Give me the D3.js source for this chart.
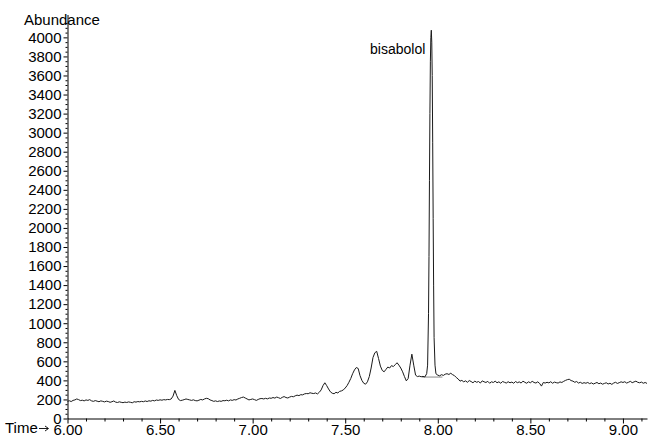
<!DOCTYPE html>
<html><head><meta charset="utf-8">
<script src="https://cdn.jsdelivr.net/npm/d3@7"></script>
<style>
body{margin:0;background:#fff}
svg{display:block}
text{font-family:"Liberation Sans",Arial,Helvetica,sans-serif;fill:#000}
</style>
</head><body>
<svg id="chart" width="648" height="437"></svg>
<script>
// ---- data ----
const traceStart = 6.00;
const traceStep = 0.01;
const abundance = [
  180,186,178,190,195,205,198,188,192,185,
  195,190,198,185,180,188,182,176,185,180,
  174,182,178,170,176,184,172,168,175,170,
  166,172,168,174,170,165,176,172,178,175,
  180,176,184,178,186,182,190,185,194,190,
  196,192,198,195,200,198,205,235,295,240,
  200,188,192,198,205,200,195,190,196,188,
  185,192,200,195,205,212,208,195,188,180,
  185,178,184,180,188,186,192,185,195,190,
  198,194,205,212,220,225,215,205,195,200,
  205,198,190,200,208,210,205,212,206,215,
  212,220,214,225,218,210,222,230,220,215,
  225,232,228,238,245,240,250,248,258,262,
  260,270,265,262,268,258,275,300,345,375,
  345,310,280,265,260,275,268,285,290,300,
  320,345,380,420,470,510,535,525,450,400,
  370,360,385,440,530,640,690,705,630,550,
  505,490,515,540,530,555,545,565,585,560,
  530,490,440,395,420,560,675,560,455,440,
  445,438,442,436,470,1100,3750,3600,850,470,
  455,448,460,452,465,470,462,475,460,450,
  430,415,392,400,385,395,380,398,388,375,
  392,380,388,372,395,385,378,390,370,385,
  378,392,375,385,370,388,380,372,386,375,
  382,370,388,376,384,372,392,380,370,385,
  375,390,378,372,385,368,340,378,372,380,
  374,386,370,382,376,372,384,378,390,400,
  408,412,398,392,380,388,372,380,368,376,
  370,378,366,374,362,370,378,365,372,360,
  368,375,362,370,358,372,380,368,376,385,
  378,386,372,380,390,376,384,392,380,375,
  382,370,378,368
];
// extra samples across the sharp bisabolol peak
const peakTimes     = [7.945, 7.9525, 7.955, 7.9575, 7.9625, 7.965, 7.9675, 7.9725, 7.975, 7.9775, 7.985];
const peakAbundance = [560,   1700,   2500,  3200,   4000,   4075,  3950,   2900,   2100,  1400,   560];
const peakName = "bisabolol";
const peakApexTime = 7.965;
const peakApexValue = 4075;
// integration baseline under the peak
const baselineTimes = [7.915, 8.025];
const baselineValues = [435, 435];

const yTicks = [0,200,400,600,800,1000,1200,1400,1600,1800,2000,2200,2400,2600,2800,3000,3200,3400,3600,3800,4000];
const xTicks = [6.0, 6.5, 7.0, 7.5, 8.0, 8.5, 9.0];
const xTickLabels = ["6.00","6.50","7.00","7.50","8.00","8.50","9.00"];
const yTitle = "Abundance";
const xTitle = "Time";

// ---- build points ----
const points = abundance.map((v, i) => ({t: +(traceStart + i * traceStep).toFixed(4), v}));
peakTimes.forEach((t, i) => points.push({t, v: peakAbundance[i]}));
points.sort((a, b) => a.t - b.t);

// ---- scales ----
const svg = d3.select("#chart");
const x = d3.scaleLinear().domain([6.0, 9.13]).range([67.5, 647]);
const y = d3.scaleLinear().domain([0, 4240]).range([418.5, 14.5]);

// ---- y axis ----
const yMinor = d3.range(0, 4201, 50).filter(d => d % 200 !== 0);
svg.append("g").attr("transform", "translate(67.5,0)")
  .call(d3.axisLeft(y).tickValues(yMinor).tickSize(2).tickFormat(""))
  .call(g => g.select(".domain").remove());
const yAxis = svg.append("g").attr("transform", "translate(67.5,0)")
  .call(d3.axisLeft(y).tickValues(yTicks).tickSize(4).tickSizeOuter(0).tickPadding(2).tickFormat(d3.format("d")));
yAxis.selectAll("text").style("font-size", "15px");

// ---- x axis ----
const xMinor = d3.range(60, 92).map(d => d / 10).filter(d => Math.round(d * 10) % 5 !== 0);
svg.append("g").attr("transform", "translate(0,418.5)")
  .call(d3.axisBottom(x).tickValues(xMinor).tickSize(3).tickFormat(""))
  .call(g => g.select(".domain").remove());
const xAxis = svg.append("g").attr("transform", "translate(0,418.5)")
  .call(d3.axisBottom(x).tickValues(xTicks).tickSize(5).tickSizeOuter(0).tickPadding(1)
    .tickFormat((d, i) => xTickLabels[i]));
xAxis.selectAll("text").style("font-size", "15px");
svg.selectAll(".tick line, .domain").attr("stroke", "#000");

// ---- titles ----
svg.append("text").attr("x", 24).attr("y", 25).style("font-size", "15px").text(yTitle);
svg.append("text").attr("x", 5).attr("y", 433).style("font-size", "15px").text(xTitle);
svg.append("path").attr("d", "M39,428.5H48M45,426L48.5,428.5L45,431")
  .attr("fill", "none").attr("stroke", "#000").attr("stroke-width", 0.9);

// ---- integration baseline ----
svg.append("path")
  .datum(baselineTimes.map((t, i) => ({t, v: baselineValues[i]})))
  .attr("fill", "none").attr("stroke", "#888").attr("stroke-width", 1)
  .attr("d", d3.line().x(d => x(d.t)).y(d => y(d.v)));

// ---- trace ----
svg.append("path")
  .datum(points)
  .attr("fill", "none").attr("stroke", "#1a1a1a").attr("stroke-width", 1)
  .attr("stroke-linejoin", "round")
  .attr("d", d3.line().x(d => x(d.t)).y(d => y(d.v)));

// ---- peak label ----
svg.append("text")
  .attr("x", x(peakApexTime) - 6).attr("y", y(peakApexValue) + 24)
  .attr("text-anchor", "end").style("font-size", "14px")
  .text(peakName);
</script>
</body></html>
